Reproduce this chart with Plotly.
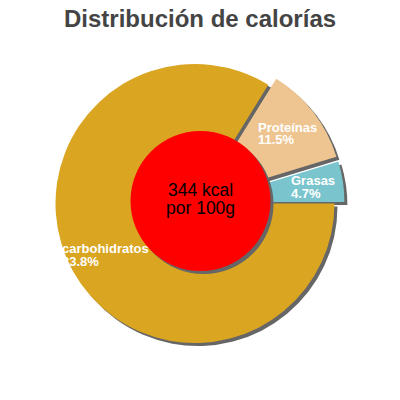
import math
import plotly.graph_objects as go

# Energy split per 100 g
labels = ["Proteínas", "Grasas", "carbohidratos"]
percent = [11.5, 4.7, 83.8]
colors = ["#EEC591", "#7AC5CD", "#DAA520"]
pulled = [True, True, False]
kcal_text = ["344 kcal", "por 100g"]
title = "Distribución de calorías"

W = H = 400
PAGE = 8                 # default body margin of the html page
cx, cy = 195, 203.5      # pie centre in screen px (from top-left)
radius = 139.5
pull_px = 10
start_angle = 31.7       # degrees clockwise from 12 o'clock
shadow = 3               # shadow offset in px
label_r = 105            # distance of the label block from the slice centre
shadow_col = "#666666"
font = "Liberation Sans, Arial, sans-serif"

pull = [pull_px / radius if p else 0 for p in pulled]
half = radius + pull_px


def px(x, y):
    # screen px -> paper coords
    return (x - PAGE) / W, 1 - (y - PAGE) / H


def domain(dx=0, dy=0):
    x0, y1 = px(cx + dx - half, cy + dy - half)
    x1, y0 = px(cx + dx + half, cy + dy + half)
    return dict(x=[x0, x1], y=[y0, y1])


fig = go.Figure()

# shadow pie first, then the real pie on top of it
for cols, dom in [([shadow_col] * len(labels), domain(shadow, shadow)),
                  (colors, domain())]:
    fig.add_trace(go.Pie(
        labels=labels, values=percent, sort=False, direction="clockwise",
        rotation=start_angle, pull=pull, domain=dom,
        marker=dict(colors=cols, line=dict(width=0)),
        textinfo="none", hoverinfo="skip", showlegend=False,
    ))

# slice labels, placed along each slice's mid angle
annotations = []
total = sum(percent)
acc = 0
for name, val, p in zip(labels, percent, pulled):
    mid = math.radians(start_angle + (acc + val / 2) / total * 360)
    acc += val
    d = label_r + (pull_px if p else 0)
    lx = cx + math.sin(mid) * d
    ly = cy - math.cos(mid) * d
    left = lx - len(name) * 6.7 / 2
    for txt, dy in [(name, -6), (f"{val}%", 6.5)]:
        x, y = px(left, ly + dy)
        annotations.append(dict(
            x=x, y=y, xref="paper", yref="paper", text=txt, showarrow=False,
            xanchor="left", yanchor="middle",
            font=dict(family=font, size=13, color="white", weight="bold"),
        ))

# centre text
rcx, rcy, rr = 200.5, 201, 70
for txt, y in zip(kcal_text, [189.5, 208]):
    x, yy = px(rcx, y)
    annotations.append(dict(
        x=x, y=yy, xref="paper", yref="paper", text=txt, showarrow=False,
        xanchor="center", yanchor="middle",
        font=dict(family=font, size=17.5, color="black"),
    ))

tx, ty = px(200, 18.5)
annotations.append(dict(
    x=tx, y=ty, xref="paper", yref="paper", text=title, showarrow=False,
    xanchor="center", yanchor="middle",
    font=dict(family=font, size=24, color="#444444", weight="bold"),
))

shapes = []
for col, off in [(shadow_col, shadow), ("#FF0000", 0)]:
    x0, y1 = px(rcx - rr + off, rcy - rr + off)
    x1, y0 = px(rcx + rr + off, rcy + rr + off)
    shapes.append(dict(type="circle", xref="paper", yref="paper",
                       x0=x0, x1=x1, y0=y0, y1=y1,
                       fillcolor=col, line=dict(width=0), layer="above"))

fig.update_layout(
    width=W, height=H,
    margin=dict(l=0, r=0, t=0, b=0),
    paper_bgcolor="white", plot_bgcolor="white",
    shapes=shapes,
    annotations=annotations,
)

fig.write_html("out.html")
